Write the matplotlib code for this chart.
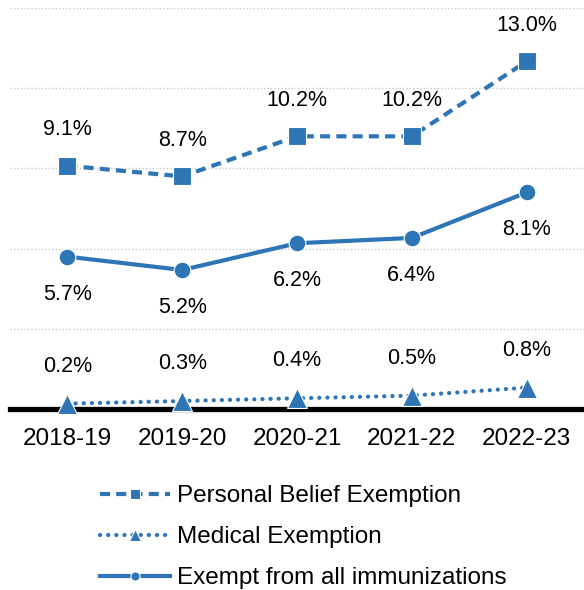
import numpy as np
import matplotlib.pyplot as plt

plt.rcParams['font.family'] = ['Liberation Sans', 'DejaVu Sans']

years = ['2018-19', '2019-20', '2020-21', '2021-22', '2022-23']
personal_belief = [9.1, 8.7, 10.2, 10.2, 13.0]
medical = [0.2, 0.3, 0.4, 0.5, 0.8]
exempt_all = [5.7, 5.2, 6.2, 6.4, 8.1]

BLUE = '#2E75B6'

fig = plt.figure(figsize=(5.84, 5.9), dpi=100)
ax = fig.add_axes([10 / 584, 181 / 590, 574 / 584, 401 / 590])

x = np.arange(len(years))

ax.plot(x, personal_belief, color=BLUE, lw=3, ls=(0, (2.4, 1.5)), marker='s',
        ms=13, mec='white', mew=0.8, label='Personal Belief Exemption', zorder=4)
ax.plot(x, medical, color=BLUE, lw=3, ls=(0, (0.05, 1.9)), dash_capstyle='round',
        marker='^', ms=15, mec='white', mew=0.8, label='Medical Exemption',
        zorder=5, clip_on=False)
ax.plot(x, exempt_all, color=BLUE, lw=3, ls='-', marker='o',
        ms=12, mec='white', mew=0.8, label='Exempt from all immunizations', zorder=4)

# value labels: above for belief and medical, below for all-immunization
for xi, v in zip(x, personal_belief):
    ax.annotate(f'{v:.1f}%', (xi, v), xytext=(0, 26), textcoords='offset points',
                ha='center', va='center', fontsize=15.5)
for xi, v in zip(x, medical):
    ax.annotate(f'{v:.1f}%', (xi, v), xytext=(0, 27), textcoords='offset points',
                ha='center', va='center', fontsize=15.5)
for xi, v in zip(x, exempt_all):
    ax.annotate(f'{v:.1f}%', (xi, v), xytext=(0, -27), textcoords='offset points',
                ha='center', va='center', fontsize=15.5)

ax.set_xlim(-0.5, 4.5)
ax.set_ylim(0, 15)
ax.set_yticks([3, 6, 9, 12, 15])
ax.yaxis.grid(True, color='#c8c8c8', ls=(0, (1, 1.5)), lw=1)
ax.set_axisbelow(True)
ax.tick_params(axis='y', left=False, labelleft=False)
ax.tick_params(axis='x', bottom=False, labelsize=17.5, pad=10)
ax.set_xticks(x)
ax.set_xticklabels(years)

for side in ['top', 'right', 'left']:
    ax.spines[side].set_visible(False)
ax.spines['bottom'].set_linewidth(3.8)
ax.spines['bottom'].set_color('black')
ax.spines['bottom'].set_zorder(3)

ax.legend(loc='upper left', bbox_to_anchor=(90 / 574, -0.19), frameon=False,
          fontsize=17.5, handlelength=2.9, handletextpad=0.25, labelspacing=0.78,
          markerscale=0.55, borderaxespad=0, borderpad=0)

fig.savefig('out.png', dpi=100)
